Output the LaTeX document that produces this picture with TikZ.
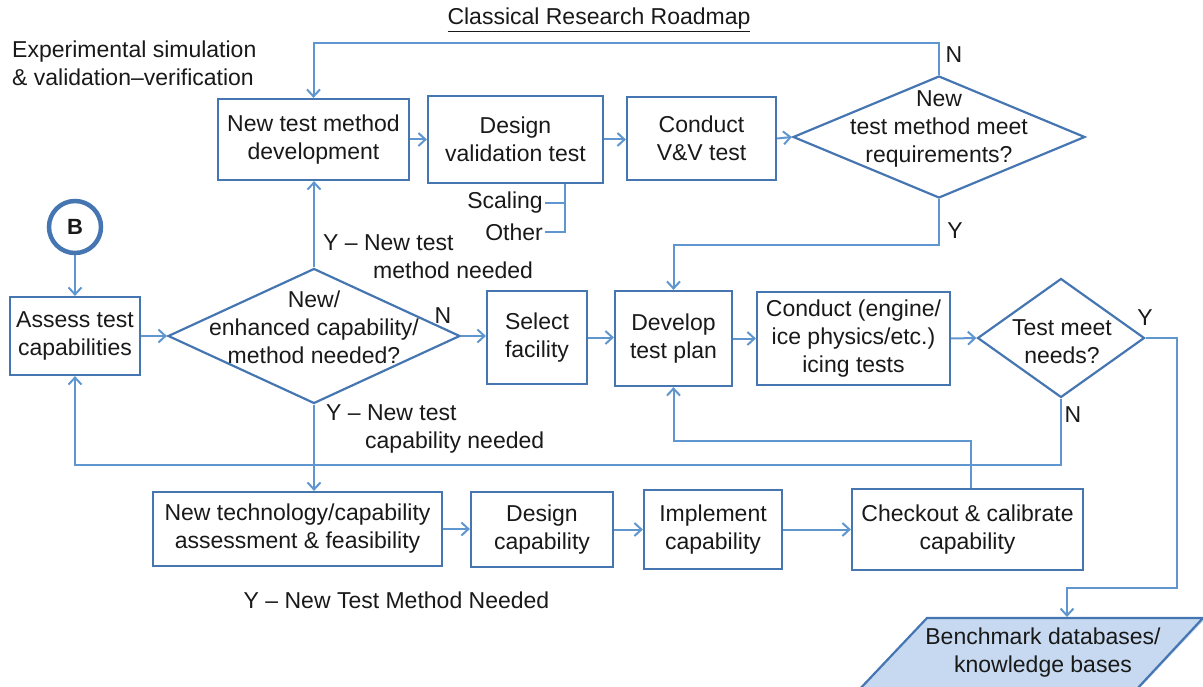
\documentclass[tikz,border=0pt]{standalone}
\usepackage{fontspec}
\setmainfont{Liberation Sans}
\usetikzlibrary{shapes.geometric,arrows.meta}
\definecolor{boxc}{RGB}{70,118,178}
\definecolor{linec}{RGB}{96,150,208}
\definecolor{fillc}{RGB}{198,217,240}
\definecolor{txt}{RGB}{25,25,25}
\begin{document}
\begin{tikzpicture}[x=1pt,y=-1pt,
  every node/.style={font=\fontsize{23}{28}\selectfont, text=txt},
  box/.style={draw=boxc, line width=2.2pt, rectangle, align=center, inner sep=0pt},
  dia/.style={draw=boxc, line width=2.2pt, diamond, inner sep=0pt},
  conn/.style={draw=linec, line width=2pt, -{Straight Barb[length=7pt,width=13pt]}},
  plainline/.style={draw=linec, line width=2pt},
  lbl/.style={inner sep=0pt, align=left}]
\useasboundingbox (0,0) rectangle (1203,687);

% titles
\node[inner sep=0pt] (title) at (599,20) {\underline{Classical Research Roadmap}};
\node[lbl, anchor=west] (exp) at (12,63) {Experimental simulation\\\& validation–verification};

% top row
\node[box, minimum width=191pt, minimum height=81pt] (b1) at (313.5,139.5) {New test method\\development};
\node[box, minimum width=175pt, minimum height=87pt] (b2) at (515.5,139.5) {Design\\validation test};
\node[box, minimum width=149pt, minimum height=83pt] (b3) at (701.5,138.5) {Conduct\\V\&V test};
\node[dia, minimum width=292pt, minimum height=122pt] (d1) at (939,137) {};
\node[align=center, inner sep=0pt] (d1t) at (939,129) {New\\test method meet\\requirements?};

% middle row
\node[draw=boxc, circle, line width=4.5pt, minimum size=52pt, inner sep=0pt, font=\fontsize{22}{24}\selectfont\bfseries] (cb) at (75,227) {B};
\node[box, minimum width=130pt, minimum height=78pt] (assess) at (75,336) {Assess test\\capabilities};
\node[dia, minimum width=292pt, minimum height=135pt] (d2) at (314,336) {};
\node[align=center, inner sep=0pt] (d2t) at (314,327) {New/\\enhanced capability/\\method needed?};
\node[box, minimum width=100pt, minimum height=93pt] (sel) at (537,337.5) {Select\\facility};
\node[box, minimum width=117pt, minimum height=95pt] (dev) at (673.5,338.5) {Develop\\test plan};
\node[box, minimum width=193pt, minimum height=93pt] (cond) at (853.5,338.5) {Conduct (engine/\\ice physics/etc.)\\icing tests};
\node[dia, minimum width=167pt, minimum height=119pt] (d3) at (1061,338) {};
\node[align=center, inner sep=0pt] (d3t) at (1062,342) {Test meet\\needs?};

% bottom row
\node[box, minimum width=289pt, minimum height=74pt] (nt) at (297.5,529) {New technology/capability\\assessment \& feasibility};
\node[box, minimum width=142pt, minimum height=75pt] (dc) at (542,529.5) {Design\\capability};
\node[box, minimum width=138pt, minimum height=79pt] (impl) at (713,529.5) {Implement\\capability};
\node[box, minimum width=231pt, minimum height=81pt] (chk) at (967.5,529.5) {Checkout \& calibrate\\capability};

% benchmark parallelogram
\fill[fillc] (927,618) -- (1206,618) -- (1136,692) -- (857,692) -- cycle;
\draw[boxc, line width=2.2pt] (857,692) -- (927,618) -- (1203,618) -- (1136,690);
\node[align=center, inner sep=0pt] (pb) at (1043,653) {Benchmark databases/\\knowledge bases};
\coordinate (pin) at (1067,617);

% labels
\node[inner sep=0pt] (n1) at (954,55) {N};
\node[inner sep=0pt] (y1) at (955,231) {Y};
\node[inner sep=0pt] (n2) at (443,316) {N};
\node[inner sep=0pt] (y3) at (1145,318) {Y};
\node[inner sep=0pt] (n3) at (1073,415) {N};
\node[lbl, anchor=west] (ym) at (323,257) {Y – New test\\\hspace*{50pt}method needed};
\node[lbl, anchor=west] (yc) at (326,429) {Y – New test\\\hspace*{39pt}capability needed};
\node[inner sep=0pt] (ytm) at (396.5,600) {Y – New Test Method Needed};
\node[inner sep=2pt, anchor=east] (scal) at (545,203) {Scaling};
\node[inner sep=2pt, anchor=east] (oth) at (545,232) {Other};

% helper coordinates
\coordinate (ytop) at (0,43);
\coordinate (yY) at (0,245);
\coordinate (ych) at (0,441);
\coordinate (yN) at (0,465);
\coordinate (xR) at (1177,0);
\coordinate (yP) at (0,588);
\coordinate (xs) at (565,0);

% connectors
\draw[conn] (d1.north) -- (d1.north |- ytop) -| (b1.north);
\draw[conn] (b1.east) -- (b2.west |- b1.east);
\draw[conn] (b2.east) -- (b3.west |- b2.east);
\draw[conn] (b3.east) -- (d1.west);
\draw[conn] (d1.south) -- (d1.south |- yY) -| (dev.north);
\draw[plainline] (b2.south -| xs) -- (xs |- oth.east) -- (oth.east);
\draw[plainline] (scal.east) -- (scal.east -| xs);

\draw[conn] (cb.south) -- (assess.north);
\draw[conn] (assess.east) -- (d2.west);
\draw[conn] (d2.north) -- (d2.north |- b1.south);
\draw[conn] (d2.east) -- (sel.west |- d2.east);
\draw[conn] (d2.south) -- (d2.south |- nt.north);
\draw[conn] (sel.east) -- (dev.west |- sel.east);
\draw[conn] (dev.east) -- (cond.west |- dev.east);
\draw[conn] (cond.east) -- (d3.west);
\draw[conn] (d3.south) -- (d3.south |- yN) -| (assess.south);
\draw[conn] (d3.east) -- (d3.east -| xR) -- (xR |- yP) -| (pin);

\draw[conn] (nt.east) -- (dc.west |- nt.east);
\draw[conn] (dc.east) -- (impl.west |- dc.east);
\draw[conn] (impl.east) -- (chk.west |- impl.east);
\draw[conn] ([xshift=3.5pt]chk.north) -- ([xshift=3.5pt]chk.north |- ych) -| (dev.south);
\end{tikzpicture}
\end{document}
